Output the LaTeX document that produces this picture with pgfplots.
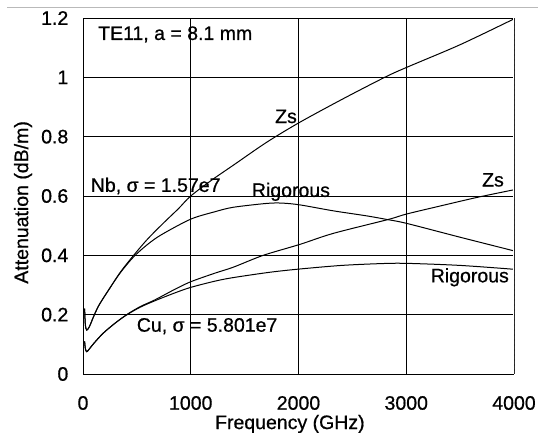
\documentclass[border=0pt]{standalone}
\usepackage{fontspec}
\setmainfont{Liberation Sans}[FakeBold=0.7]
\usepackage{pgfplots}
\pgfplotsset{compat=1.18}
\begin{document}
\fontsize{19.5}{23}\selectfont
\begin{tikzpicture}[x=1pt,y=1pt]
\path[use as bounding box] (0,0) rectangle (538,433);
\draw[gray!55, line width=1pt] (7,425) -- (538,425);
\begin{axis}[
  at={(83pt,59pt)}, anchor=south west,
  scale only axis, width=431pt, height=356pt,
  xmin=0, xmax=4000, ymin=0, ymax=1.2,
  xtick={0,1000,2000,3000,4000},
  ytick={0,0.2,0.4,0.6,0.8,1,1.2},
  grid=major, major grid style={black, line width=0.6pt},
  major tick length=0pt,
  axis line style={draw=none},
  scaled ticks=false,
  /pgf/number format/1000 sep={},
  /pgf/number format/assume math mode=true,
  xticklabel style={anchor=center, yshift=-29pt},
  yticklabel style={anchor=east, xshift=-8pt},
  xlabel={Frequency (GHz)},
  ylabel={Attenuation (dB/m)},
  xlabel style={at={(axis description cs:0.48,0)}, anchor=center, yshift=-50pt},
  ylabel style={at={(axis description cs:-0.139,0.482)}, anchor=center},
  curve/.style={black, line width=1pt, smooth, mark=none},
]
% Nb, Zs
\addplot[curve] coordinates {(15,0.22) (22,0.165) (35,0.148) (60,0.16) (100,0.195) (150,0.233) (250,0.29) (350,0.345) (470,0.40) (600,0.455) (750,0.51) (885,0.557) (1000,0.60) (1200,0.655) (1400,0.705) (1700,0.78) (2000,0.846) (2400,0.925) (2800,1.0) (3000,1.033) (3500,1.11) (4000,1.197)};
% Nb, Rigorous
\addplot[curve] coordinates {(15,0.22) (22,0.165) (35,0.148) (60,0.16) (100,0.195) (150,0.233) (250,0.29) (350,0.343) (470,0.395) (600,0.437) (730,0.47) (1000,0.522) (1225,0.547) (1395,0.562) (1705,0.575) (1850,0.576) (2014,0.570) (2323,0.550) (2633,0.533) (2818,0.521) (3000,0.508) (3500,0.461) (4000,0.415)};
% Cu, Zs
\addplot[curve] coordinates {(15,0.11) (22,0.085) (35,0.075) (60,0.085) (100,0.103) (186,0.137) (300,0.172) (405,0.20) (530,0.227) (668,0.25) (850,0.285) (1000,0.311) (1225,0.34) (1395,0.36) (1673,0.40) (2014,0.437) (2323,0.474) (2834,0.521) (3000,0.539) (3300,0.565) (3654,0.595) (4000,0.621)};
% Cu, Rigorous
\addplot[curve] coordinates {(15,0.11) (22,0.085) (35,0.075) (60,0.085) (100,0.103) (186,0.137) (300,0.172) (405,0.199) (530,0.225) (668,0.247) (850,0.273) (1000,0.292) (1225,0.313) (1395,0.325) (1735,0.343) (2014,0.354) (2400,0.366) (2756,0.372) (3000,0.373) (3500,0.366) (4000,0.353)};
% frame
\draw[black, line width=0.9pt] (rel axis cs:1,1) -- (rel axis cs:0,1) -- (rel axis cs:0,0) -- (rel axis cs:1,0);
\draw[white, line width=1.6pt] (rel axis cs:1,0) -- (rel axis cs:1,1);
\draw[gray, line width=0.7pt, densely dashed] (rel axis cs:1,0) -- (rel axis cs:1,1);
% labels
\node[anchor=base west, inner sep=0pt] at (axis cs:139,1.126) {TE11, a = 8.1 mm};
\node[anchor=base, inner sep=0pt] at (axis cs:1884,0.846) {Zs};
\node[anchor=base west, inner sep=0pt] at (axis cs:71,0.614) {Nb, σ = 1.57e7};
\node[anchor=base, inner sep=0pt] at (axis cs:1930,0.597) {Rigorous};
\node[anchor=base, inner sep=0pt] at (axis cs:3805,0.632) {Zs};
\node[anchor=base, inner sep=0pt] at (axis cs:3590,0.309) {Rigorous};
\node[anchor=base west, inner sep=0pt] at (axis cs:498,0.1426) {Cu, σ = 5.801e7};
\end{axis}
\end{tikzpicture}
\end{document}
